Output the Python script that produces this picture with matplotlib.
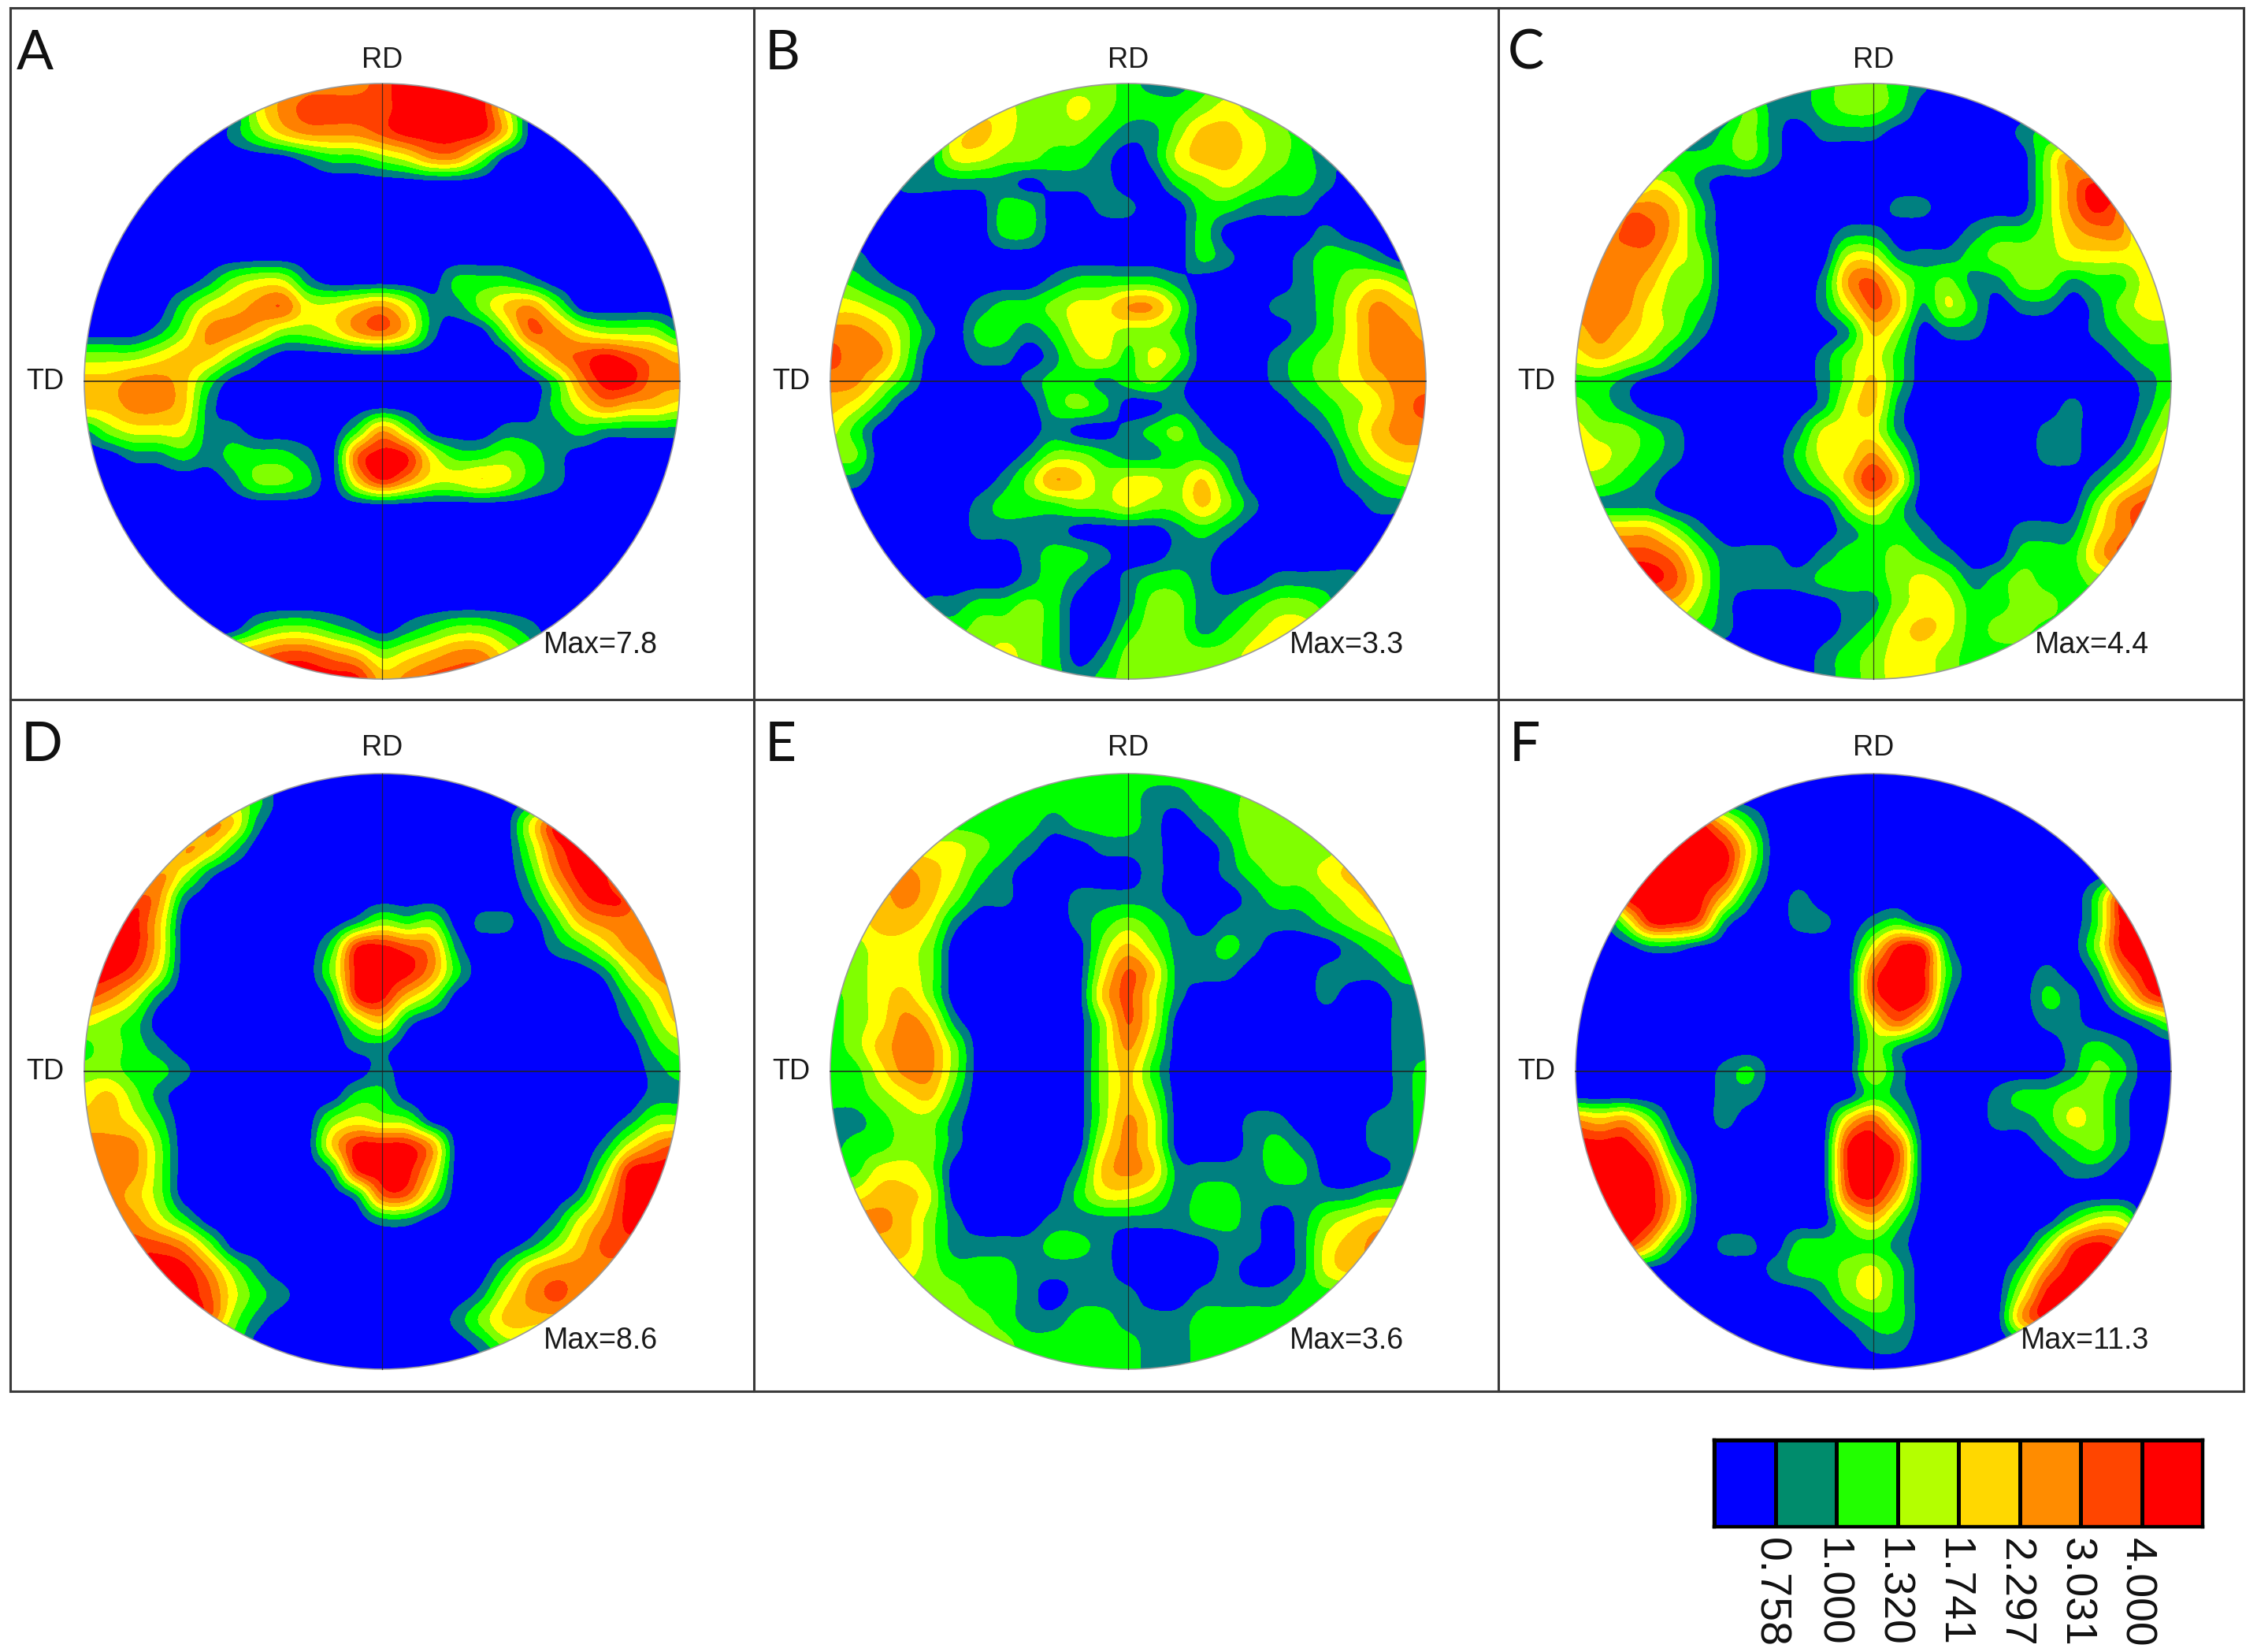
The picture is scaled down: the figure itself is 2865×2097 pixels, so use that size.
import numpy as np
import matplotlib
matplotlib.use("Agg")
import matplotlib.pyplot as plt
from matplotlib.colors import BoundaryNorm, ListedColormap
from matplotlib.lines import Line2D
from matplotlib.patches import Circle

plt.rcParams["font.family"] = ["Liberation Sans", "DejaVu Sans"]

# -----------------------------
# Data: density class on a 25 x 25 grid
# (0 = blue ... 8 = red), top row first
# -----------------------------
PANEL_A = [
    "0000000456667888840000000",
    "0000000467777888840000000",
    "0000001356667888850000000",
    "0000000001223466300000000",
    "0000000000000000000000000",
    "0000000000000000000000000",
    "0000000000000000000000000",
    "0000000000000000000000000",
    "0000013441000002221000000",
    "0000245674456411356300000",
    "0001366533467510037643331",
    "3334553100000000003678765",
    "5566520000000000000268866",
    "5566510000000000000246554",
    "1344411000026300011121111",
    "0011212221078842232100000",
    "0000001332058644542100000",
    "0000000000000000000000000",
    "0000000000000000000000000",
    "0000000000000000000000000",
    "0000000000000000000000000",
    "0000000000000000000000000",
    "0000000233210123321000000",
    "0000005677653456642000000",
    "0000000788885677750000000",
]
PANEL_B = [
    "0000003333332112333000000",
    "0000004433432223433000000",
    "0000045433321135543200000",
    "0000144332210145543210000",
    "0001111101110023432210000",
    "0000000220011002211100000",
    "0000000220000002000010000",
    "0100000000000002100122100",
    "3210000001222210000123431",
    "4432001223446630001124654",
    "6653102212443320000124665",
    "7663001101342430001234666",
    "6642000012212310001234566",
    "5420000002320010000123467",
    "4200000001001231000013566",
    "3300000013321122100002455",
    "1100000136534435200001233",
    "0000001222334335310000111",
    "0000001111000012100000000",
    "0000000012210011000000000",
    "0000000012101221001111000",
    "0000112232001331123320000",
    "0000223332002331234430000",
    "0000033432013333345400000",
    "0000033432123333345400000",
]
PANEL_C = [
    "0000000011233210000000000",
    "0000000311233200000000000",
    "0000002310111000001200000",
    "0000222310000000000360000",
    "0004310000000000000368800",
    "0066520000000110000368600",
    "0577520000011000122356620",
    "5666430000044111233344442",
    "6665330000167423113312244",
    "6664320000147514201101344",
    "5654310000015301100001233",
    "4543100000134200000000122",
    "2210000000135200000000012",
    "3210000000145100000010013",
    "4332100001444100000110024",
    "4432100002446300000110135",
    "3321000001358500000001356",
    "1111000000035200000003677",
    "5555310000012210001114677",
    "7777631110122321002225777",
    "8888741111222343123223333",
    "5555531000011344223322222",
    "2222221000012454233222222",
    "0000000000123443222000000",
    "0000000000123443222000000",
]
PANEL_D = [
    "0000000000000000000000000",
    "0000003200000000000000000",
    "0000065100000000004880000",
    "0000652000000000003788000",
    "0006410000000000002688000",
    "0076100000000000001478700",
    "8885000000013230110256653",
    "8885000000288761000124666",
    "8874000000388862000001466",
    "7641000000188530000000246",
    "4320000000035100000000135",
    "2321000000011000000000023",
    "3322100000001000000000012",
    "4531000000022000000000011",
    "5542000000343300000000133",
    "6663000000588860000001467",
    "7663000000188850000003888",
    "6653000000017730000015888",
    "6664200000001100000146888",
    "7777630000000000001357777",
    "8888863100000000025666666",
    "8888874210000000146766666",
    "7777773100000001355555555",
    "0000002000000000133000000",
    "0000000000000000000000000",
]
PANEL_E = [
    "2222222222222222222222222",
    "2222222222222112233333333",
    "2222222221222101233333333",
    "4444443210011100133334444",
    "6666542100000100123345555",
    "5556531100111100012234555",
    "4455410000123210111123455",
    "3344300000035311210001233",
    "3344300000047511100011122",
    "2345300000057410000010011",
    "2346510000037400000000011",
    "2356630000036300000000011",
    "2246630000035200000000012",
    "2234520000035300000000012",
    "1123310000036400011000112",
    "1223310000046400012100112",
    "2244300000156511112200012",
    "4455400000244312211111222",
    "6665310001111112210134555",
    "5555311112210000110145666",
    "4444322211110000100145555",
    "3333332210111001111222222",
    "3333333211221112222222222",
    "3333333322222112222222222",
    "2222222222222112222222222",
]
PANEL_F = [
    "0000000000000000000000000",
    "0000000000000000000000000",
    "0000885200000000000000000",
    "0008888400000000000000000",
    "0088888300000000000000000",
    "0088885101000000000002880",
    "0038871001101200000002888",
    "0001100000004881000003888",
    "0000000000007882000101688",
    "0000000000007881000210378",
    "0000000000004740000110013",
    "0000000000003100000012100",
    "0000001200004100000013200",
    "0000001100002100012233100",
    "6563001000057300011243100",
    "8886100000088700000123100",
    "8888300000088700000011000",
    "8888500000078500000000000",
    "8888400000035200000024400",
    "8885101102222100000378777",
    "0000000012234200002688888",
    "0000000000134200004888888",
    "0000000000012200006888888",
    "0000000000001100000000000",
    "0000000000000000000000000",
]

PANEL_NAMES = ["A", "B", "C", "D", "E", "F"]
PANEL_GRIDS = [PANEL_A, PANEL_B, PANEL_C, PANEL_D, PANEL_E, PANEL_F]
PANEL_MAX = ["Max=7.8", "Max=3.3", "Max=4.4", "Max=8.6", "Max=3.6", "Max=11.3"]

CLASS_COLORS = ["#0000ff", "#008080", "#00ff00", "#80ff00", "#ffff00",
                "#ffc000", "#ff8000", "#ff4000", "#ff0000"]
# the teal band is kept thin, as in the picture
CLASS_EDGES = [-9, 0.62, 1.5, 2.5, 3.5, 4.5, 5.5, 6.5, 7.4, 20]

LEGEND_COLORS = ["#0000ff", "#008c6c", "#22ff00", "#b4ff00",
                 "#ffd800", "#ff8c00", "#ff4500", "#ff0000"]
LEGEND_LABELS = ["0.758", "1.000", "1.320", "1.741", "2.297", "3.031", "4.000"]

# -----------------------------
# Layout, in pixels of the 2865 x 2097 picture
# -----------------------------
W, H = 2865, 2097
RADIUS = 378
CENTER_X = [485, 1432, 2378]
CENTER_Y = [484, 1360]
FRAME_X = [13, 957, 1902, 2848]
FRAME_Y = [10, 888, 1766]
LETTER_X = [21, 971, 1914, 27, 971, 1916]
LETTER_Y = [88, 88, 88, 966, 966, 966]
RD_DY = [407, 410]
MAX_DY = [335, 342]


def px_axes(fig, x0, y0, x1, y1):
    # axes from picture pixels, y measured from the top
    return fig.add_axes([x0 / W, 1 - y1 / H, (x1 - x0) / W, (y1 - y0) / H])


def draw_pole_figure(ax, rows):
    grid = np.array([[int(c) for c in row.ljust(25, "0")[:25]] for row in rows], dtype=float)
    half = 1 / (grid.shape[0] - 1)
    im = ax.imshow(grid, cmap=ListedColormap(CLASS_COLORS), norm=BoundaryNorm(CLASS_EDGES, 9),
                   interpolation="mitchell", interpolation_stage="data", origin="upper",
                   extent=[-1 - half, 1 + half, -1 - half, 1 + half])
    im.set_clip_path(Circle((0, 0), 1, transform=ax.transData))
    ax.add_patch(Circle((0, 0), 1, fill=False, edgecolor="#9a9a9a", linewidth=1.2))
    ax.plot([-1, 1], [0, 0], color="#202020", linewidth=1.1)
    ax.plot([0, 0], [-1, 1], color="#202020", linewidth=0.9, alpha=0.8)
    ax.set_xlim(-1.01, 1.01)
    ax.set_ylim(-1.01, 1.01)
    ax.axis("off")


fig = plt.figure(figsize=(W / 100, H / 100), dpi=100, facecolor="white")

# -----------------------------
# Panels
# -----------------------------
for i, rows in enumerate(PANEL_GRIDS):
    cx = CENTER_X[i % 3]
    cy = CENTER_Y[i // 3]
    pad = RADIUS * 1.01
    ax = px_axes(fig, cx - pad, cy - pad, cx + pad, cy + pad)
    draw_pole_figure(ax, rows)

    fig.text(cx / W, 1 - (cy - RD_DY[i // 3]) / H, "RD", fontsize=26, color="#1a1a1a", ha="center", va="center")
    fig.text((cx - 428) / W, 1 - cy / H, "TD", fontsize=26, color="#1a1a1a", ha="center", va="center")
    fig.text((cx + 350) / W, 1 - (cy + MAX_DY[i // 3]) / H, PANEL_MAX[i], fontsize=27,
             color="#1a1a1a", ha="right", va="center")
    fig.text(LETTER_X[i] / W, 1 - LETTER_Y[i] / H, PANEL_NAMES[i], fontsize=50, family="Lato",
             color="#111111", ha="left", va="baseline")

# frame lines between the panels
for fx in FRAME_X:
    fig.add_artist(Line2D([fx / W, fx / W], [1 - FRAME_Y[0] / H, 1 - FRAME_Y[-1] / H],
                          color="#3a3a3a", linewidth=2.2))
for fy in FRAME_Y:
    fig.add_artist(Line2D([FRAME_X[0] / W, FRAME_X[-1] / W], [1 - fy / H, 1 - fy / H],
                          color="#3a3a3a", linewidth=2.2))

# -----------------------------
# Colour key
# -----------------------------
key = px_axes(fig, 2176, 1828, 2796, 1938)
key.bar(np.arange(8) + 0.5, np.ones(8), width=1, color=LEGEND_COLORS, edgecolor="black", linewidth=3.6)
key.set_xlim(0, 8)
key.set_ylim(0, 1)
key.set_yticks([])
key.set_xticks(np.arange(1, 8) - 0.09)
key.set_xticklabels(LEGEND_LABELS, rotation=-90, fontsize=40, color="#111111")
key.tick_params(axis="x", length=0, pad=10)
for spine in key.spines.values():
    spine.set_linewidth(3.2)

fig.savefig("out.png", dpi=100)
